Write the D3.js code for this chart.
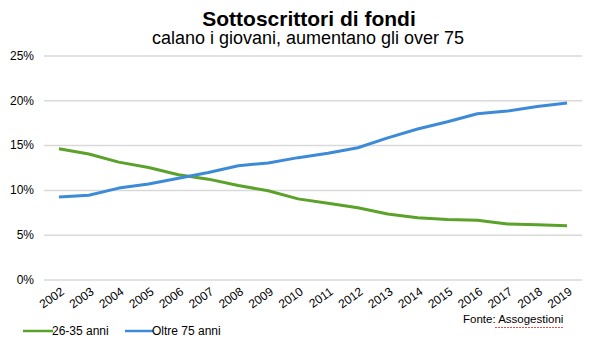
<!DOCTYPE html>
<html><head><meta charset="utf-8">
<script src="https://cdn.jsdelivr.net/npm/d3@7"></script>
<style>body{margin:0;background:#fff}svg{display:block;font-family:"Liberation Sans",Arial,sans-serif}</style>
</head><body>
<svg id="c" width="600" height="344"></svg>
<script>
const years = ["2002","2003","2004","2005","2006","2007","2008","2009","2010","2011","2012","2013","2014","2015","2016","2017","2018","2019"];
const young = [14.6,14.0,13.1,12.5,11.7,11.2,10.5,9.9,9.0,8.5,8.0,7.3,6.9,6.7,6.6,6.2,6.1,6.0];
const old = [9.2,9.4,10.2,10.65,11.3,11.95,12.7,13.0,13.6,14.1,14.7,15.8,16.8,17.6,18.5,18.8,19.3,19.7];
const yTicks = [0,5,10,15,20,25];
const seriesNames = ["26-35 anni","Oltre 75 anni"];
const colors = ["#5ba22a","#3d8ad8"];

const svg = d3.select("#c");
const x = d3.scaleBand().domain(years).range([44,582]);
const y = d3.scaleLinear().domain([0,25]).range([279.5,55.5]);

svg.append("text").attr("x",309).attr("y",26).attr("text-anchor","middle")
  .attr("font-size",21).attr("font-weight","bold").attr("fill","#000").text("Sottoscrittori di fondi");
svg.append("text").attr("x",308).attr("y",44).attr("text-anchor","middle")
  .attr("font-size",18).attr("fill","#000").text("calano i giovani, aumentano gli over 75");

const ya = svg.append("g").attr("transform","translate(44,0)")
  .call(d3.axisLeft(y).tickValues(yTicks).tickSize(-538).tickFormat(d=>d+"%"));
ya.select(".domain").remove();
ya.selectAll(".tick line").attr("stroke","#d9d9d9").attr("stroke-width",1.5);
ya.selectAll(".tick text").attr("x",-10).attr("font-size",12).attr("fill","#000")
  .attr("font-family","Liberation Sans, Arial, sans-serif");

const xa = svg.append("g").attr("transform","translate(0,279.5)")
  .call(d3.axisBottom(x).tickSize(0));
xa.select(".domain").remove();
xa.selectAll(".tick text").attr("font-size",12).attr("fill","#000")
  .attr("font-family","Liberation Sans, Arial, sans-serif")
  .attr("text-anchor","end").attr("dy",0).attr("y",0)
  .attr("transform","translate(6,14) rotate(-35)");

const line = d3.line().x((d,i)=>x(years[i])+x.bandwidth()/2).y(d=>y(d));
[young,old].forEach((s,k)=>{
  svg.append("path").datum(s).attr("d",line).attr("fill","none")
    .attr("stroke",colors[k]).attr("stroke-width",3).attr("stroke-linejoin","round");
});

const lg = [{x1:23,x2:53,tx:52},{x1:125,x2:153,tx:152}];
lg.forEach((l,k)=>{
  svg.append("line").attr("x1",l.x1).attr("x2",l.x2).attr("y1",331).attr("y2",331)
    .attr("stroke",colors[k]).attr("stroke-width",2.5);
  svg.append("text").attr("x",l.tx).attr("y",335).attr("font-size",12).attr("fill","#000").text(seriesNames[k]);
});
svg.append("text").attr("x",463).attr("y",323).attr("font-size",11.5).attr("fill","#000")
  .text("Fonte: Assogestioni");
svg.append("line").attr("x1",495).attr("x2",563).attr("y1",327.5).attr("y2",327.5)
  .attr("stroke","#e05050").attr("stroke-width",1).attr("stroke-dasharray","2,1");
</script>
</body></html>
